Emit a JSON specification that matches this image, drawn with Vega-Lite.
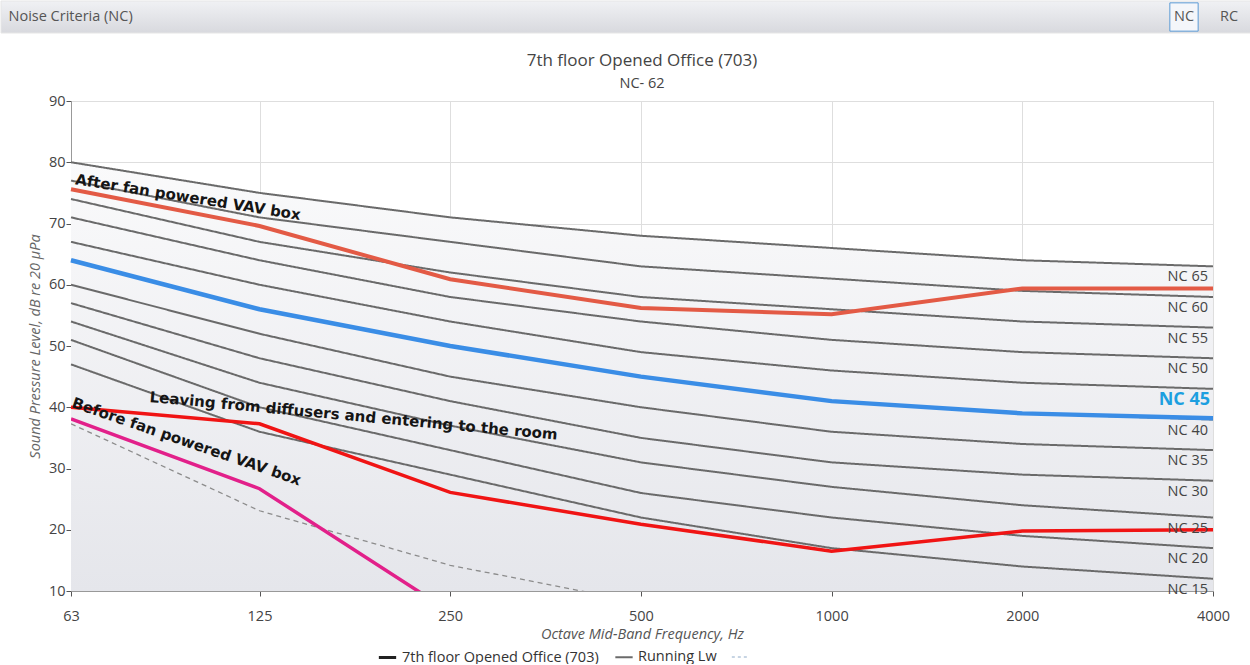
{
  "$schema": "https://vega.github.io/schema/vega-lite/v6.json",
  "padding": 0,
  "background": "white",
  "spacing": 17,
  "config": {
    "font": "Open Sans",
    "view": {"stroke": "#A8A8A8"},
    "axis": {"labelFont": "Open Sans", "titleFont": "Open Sans"}
  },
  "datasets": {
    "nc": [
      {"curve": "NC 15", "freq": 63, "spl": 47}, {"curve": "NC 15", "freq": 125, "spl": 36}, {"curve": "NC 15", "freq": 250, "spl": 29}, {"curve": "NC 15", "freq": 500, "spl": 22}, {"curve": "NC 15", "freq": 1000, "spl": 17}, {"curve": "NC 15", "freq": 2000, "spl": 14}, {"curve": "NC 15", "freq": 4000, "spl": 12},
      {"curve": "NC 20", "freq": 63, "spl": 51}, {"curve": "NC 20", "freq": 125, "spl": 40}, {"curve": "NC 20", "freq": 250, "spl": 33}, {"curve": "NC 20", "freq": 500, "spl": 26}, {"curve": "NC 20", "freq": 1000, "spl": 22}, {"curve": "NC 20", "freq": 2000, "spl": 19}, {"curve": "NC 20", "freq": 4000, "spl": 17},
      {"curve": "NC 25", "freq": 63, "spl": 54}, {"curve": "NC 25", "freq": 125, "spl": 44}, {"curve": "NC 25", "freq": 250, "spl": 37}, {"curve": "NC 25", "freq": 500, "spl": 31}, {"curve": "NC 25", "freq": 1000, "spl": 27}, {"curve": "NC 25", "freq": 2000, "spl": 24}, {"curve": "NC 25", "freq": 4000, "spl": 22},
      {"curve": "NC 30", "freq": 63, "spl": 57}, {"curve": "NC 30", "freq": 125, "spl": 48}, {"curve": "NC 30", "freq": 250, "spl": 41}, {"curve": "NC 30", "freq": 500, "spl": 35}, {"curve": "NC 30", "freq": 1000, "spl": 31}, {"curve": "NC 30", "freq": 2000, "spl": 29}, {"curve": "NC 30", "freq": 4000, "spl": 28},
      {"curve": "NC 35", "freq": 63, "spl": 60}, {"curve": "NC 35", "freq": 125, "spl": 52}, {"curve": "NC 35", "freq": 250, "spl": 45}, {"curve": "NC 35", "freq": 500, "spl": 40}, {"curve": "NC 35", "freq": 1000, "spl": 36}, {"curve": "NC 35", "freq": 2000, "spl": 34}, {"curve": "NC 35", "freq": 4000, "spl": 33},
      {"curve": "NC 40", "freq": 63, "spl": 64}, {"curve": "NC 40", "freq": 125, "spl": 56}, {"curve": "NC 40", "freq": 250, "spl": 50}, {"curve": "NC 40", "freq": 500, "spl": 45}, {"curve": "NC 40", "freq": 1000, "spl": 41}, {"curve": "NC 40", "freq": 2000, "spl": 39}, {"curve": "NC 40", "freq": 4000, "spl": 38},
      {"curve": "NC 45", "freq": 63, "spl": 67}, {"curve": "NC 45", "freq": 125, "spl": 60}, {"curve": "NC 45", "freq": 250, "spl": 54}, {"curve": "NC 45", "freq": 500, "spl": 49}, {"curve": "NC 45", "freq": 1000, "spl": 46}, {"curve": "NC 45", "freq": 2000, "spl": 44}, {"curve": "NC 45", "freq": 4000, "spl": 43},
      {"curve": "NC 50", "freq": 63, "spl": 71}, {"curve": "NC 50", "freq": 125, "spl": 64}, {"curve": "NC 50", "freq": 250, "spl": 58}, {"curve": "NC 50", "freq": 500, "spl": 54}, {"curve": "NC 50", "freq": 1000, "spl": 51}, {"curve": "NC 50", "freq": 2000, "spl": 49}, {"curve": "NC 50", "freq": 4000, "spl": 48},
      {"curve": "NC 55", "freq": 63, "spl": 74}, {"curve": "NC 55", "freq": 125, "spl": 67}, {"curve": "NC 55", "freq": 250, "spl": 62}, {"curve": "NC 55", "freq": 500, "spl": 58}, {"curve": "NC 55", "freq": 1000, "spl": 56}, {"curve": "NC 55", "freq": 2000, "spl": 54}, {"curve": "NC 55", "freq": 4000, "spl": 53},
      {"curve": "NC 60", "freq": 63, "spl": 77}, {"curve": "NC 60", "freq": 125, "spl": 71}, {"curve": "NC 60", "freq": 250, "spl": 67}, {"curve": "NC 60", "freq": 500, "spl": 63}, {"curve": "NC 60", "freq": 1000, "spl": 61}, {"curve": "NC 60", "freq": 2000, "spl": 59}, {"curve": "NC 60", "freq": 4000, "spl": 58},
      {"curve": "NC 65", "freq": 63, "spl": 80}, {"curve": "NC 65", "freq": 125, "spl": 75}, {"curve": "NC 65", "freq": 250, "spl": 71}, {"curve": "NC 65", "freq": 500, "spl": 68}, {"curve": "NC 65", "freq": 1000, "spl": 66}, {"curve": "NC 65", "freq": 2000, "spl": 64}, {"curve": "NC 65", "freq": 4000, "spl": 63}
    ],
    "spectra": [
      {"series": "After fan powered VAV box", "freq": 63, "spl": 75.6}, {"series": "After fan powered VAV box", "freq": 125, "spl": 69.6}, {"series": "After fan powered VAV box", "freq": 250, "spl": 60.9}, {"series": "After fan powered VAV box", "freq": 500, "spl": 56.2}, {"series": "After fan powered VAV box", "freq": 1000, "spl": 55.2}, {"series": "After fan powered VAV box", "freq": 2000, "spl": 59.4}, {"series": "After fan powered VAV box", "freq": 4000, "spl": 59.4},
      {"series": "Leaving from diffusers", "freq": 63, "spl": 40.0}, {"series": "Leaving from diffusers", "freq": 125, "spl": 37.3}, {"series": "Leaving from diffusers", "freq": 250, "spl": 26.1}, {"series": "Leaving from diffusers", "freq": 500, "spl": 20.9}, {"series": "Leaving from diffusers", "freq": 1000, "spl": 16.5}, {"series": "Leaving from diffusers", "freq": 2000, "spl": 19.8}, {"series": "Leaving from diffusers", "freq": 4000, "spl": 20.0},
      {"series": "Before fan powered VAV box", "freq": 63, "spl": 38.1}, {"series": "Before fan powered VAV box", "freq": 125, "spl": 26.7}, {"series": "Before fan powered VAV box", "freq": 250, "spl": 6.6},
      {"series": "Room", "freq": 63, "spl": 64}, {"series": "Room", "freq": 125, "spl": 56}, {"series": "Room", "freq": 250, "spl": 50}, {"series": "Room", "freq": 500, "spl": 45}, {"series": "Room", "freq": 1000, "spl": 41}, {"series": "Room", "freq": 2000, "spl": 39}, {"series": "Room", "freq": 4000, "spl": 38.2},
      {"series": "Threshold", "freq": 63, "spl": 37.3}, {"series": "Threshold", "freq": 125, "spl": 23.1}, {"series": "Threshold", "freq": 250, "spl": 14.2}, {"series": "Threshold", "freq": 500, "spl": 8.1}
    ],
    "notes": [
      {"note": "After fan powered VAV box", "freq": 96.4, "spl": 74.3},
      {"note": "Leaving from diffusers and entering to the room", "freq": 176, "spl": 38.6},
      {"note": "Before fan powered VAV box", "freq": 95.9, "spl": 34.4}
    ],
    "header": [{"item": "NC"}, {"item": "RC"}]
  },
  "vconcat": [
    {
      "width": 1250,
      "height": 32,
      "view": {"stroke": null},
      "data": {"name": "header"},
      "title": {"text": "Noise Criteria (NC)", "anchor": "start", "frame": "bounds", "offset": -24, "dx": 8, "fontSize": 14.5, "fontWeight": "normal", "color": "#555555", "font": "Open Sans"},
      "layer": [
        {
          "transform": [{"filter": "datum.item == 'NC'"}],
          "mark": {"type": "rect", "fill": {"gradient": "linear", "x1": 0, "y1": 0, "x2": 0, "y2": 1, "stops": [{"offset": 0, "color": "#F0F1F4"}, {"offset": 1, "color": "#D8D9DE"}]}, "stroke": "#E6E6E6", "strokeWidth": 1},
          "encoding": {}
        },
        {
          "transform": [{"filter": "datum.item == 'NC'"}],
          "mark": {"type": "point", "shape": "square", "size": 800, "filled": true, "fill": "#F4F6FA", "stroke": "#5B9BD5", "strokeWidth": 1, "opacity": 1},
          "encoding": {"x": {"field": "item", "type": "nominal", "scale": {"type": "point", "domain": ["NC", "RC"], "range": [1183, 1228], "padding": 0}, "axis": null}}
        },
        {
          "mark": {"type": "text", "fontSize": 14.5, "color": "#555555", "baseline": "middle", "font": "Open Sans"},
          "encoding": {"x": {"field": "item", "type": "nominal", "scale": {"type": "point", "domain": ["NC", "RC"], "range": [1183, 1228], "padding": 0}, "axis": null}, "text": {"field": "item"}}
        }
      ]
    },
    {
      "hconcat": [
        {
          "width": 25,
          "height": 10,
          "view": {"stroke": null},
          "data": {"values": [{"s": 1}]},
          "mark": {"type": "rect", "opacity": 0},
          "encoding": {}
        },
        {
          "width": 1142,
          "height": 490,
          "title": {"text": "7th floor Opened Office (703)", "subtitle": "NC- 62", "anchor": "middle", "frame": "group", "fontSize": 17, "fontWeight": "normal", "color": "#444444", "subtitleColor": "#444444", "subtitleFontSize": 14.5, "subtitlePadding": 7, "offset": 2, "font": "Open Sans", "subtitleFont": "Open Sans"},
          "encoding": {
            "x": {"field": "freq", "type": "quantitative", "scale": {"type": "log", "domain": [63, 4000], "nice": false},
              "axis": {"title": "Octave Mid-Band Frequency, Hz", "values": [63, 125, 250, 500, 1000, 2000, 4000], "format": "d", "labelFlush": false, "labelOverlap": false, "grid": true, "gridColor": "#DEDEDE", "domainColor": "#999999", "tickColor": "#555555", "tickSize": 5, "labelFontSize": 14.5, "labelColor": "#444444", "labelPadding": 13, "titleFontSize": 14.5, "titleFontWeight": "normal", "titleFontStyle": "italic", "titleColor": "#555555", "titlePadding": 5}},
            "y": {"field": "spl", "type": "quantitative", "scale": {"domain": [10, 90], "nice": false, "zero": false},
              "axis": {"title": "Sound Pressure Level, dB re 20 µPa", "values": [10, 20, 30, 40, 50, 60, 70, 80, 90], "labelFlush": false, "grid": true, "gridColor": "#DEDEDE", "domainColor": "#999999", "tickColor": "#555555", "tickSize": 5, "labelFontSize": 14.5, "labelColor": "#444444", "labelPadding": 1, "titleFontSize": 14.5, "titleFontWeight": "normal", "titleFontStyle": "italic", "titleColor": "#666666", "titlePadding": 6}}
          },
          "layer": [
            {
              "data": {"name": "nc"},
              "transform": [{"filter": "datum.curve == 'NC 65'"}],
              "mark": {"type": "area", "fill": {"gradient": "linear", "x1": 0, "y1": 0, "x2": 0, "y2": 1, "stops": [{"offset": 0, "color": "#FAFAFB"}, {"offset": 1, "color": "#E5E6EB"}]}},
              "encoding": {"y2": {"datum": 10}}
            },
            {
              "data": {"name": "nc"},
              "mark": {"type": "line", "interpolate": "linear"},
              "encoding": {
                "detail": {"field": "curve"},
                "color": {"datum": "Running Lw", "type": "nominal", "scale": {"domain": ["7th floor Opened Office (703)", "Running Lw", ""], "range": ["#222222", "#6A6A6A", "#8FAAC8"]},
                  "legend": {"title": null, "orient": "none", "legendX": 376, "legendY": 646, "direction": "horizontal", "symbolType": "stroke", "symbolSize": 300, "labelFontSize": 14.5, "labelColor": "#333333", "labelFont": "Open Sans", "labelLimit": 0, "columnPadding": 12, "symbolOpacity": 1}},
                "strokeDash": {"datum": "Running Lw", "type": "nominal", "scale": {"domain": ["7th floor Opened Office (703)", "Running Lw", ""], "range": [[1, 0], [1, 0], [3, 3]]}, "legend": {"title": null, "orient": "none", "legendX": 376, "legendY": 646, "direction": "horizontal"}},
                "strokeWidth": {"datum": "Running Lw", "type": "nominal", "scale": {"domain": ["7th floor Opened Office (703)", "Running Lw", ""], "range": [3, 1, 1.2]}, "legend": {"title": null, "orient": "none", "legendX": 376, "legendY": 646, "direction": "horizontal"}}
              }
            },
            {
              "data": {"name": "spectra"},
              "transform": [{"filter": "datum.series == 'Threshold'"}],
              "mark": {"type": "line", "stroke": "#8C8C8C", "strokeWidth": 1.3, "strokeDash": [5, 4], "clip": true}
            },
            {
              "data": {"name": "spectra"},
              "transform": [{"filter": "datum.series == 'Room'"}],
              "mark": {"type": "line", "stroke": "#3A8DE6", "strokeWidth": 4.5}
            },
            {
              "data": {"name": "spectra"},
              "transform": [{"filter": "datum.series == 'After fan powered VAV box'"}],
              "mark": {"type": "line", "stroke": "#E35A45", "strokeWidth": 4}
            },
            {
              "data": {"name": "spectra"},
              "transform": [{"filter": "datum.series == 'Leaving from diffusers'"}],
              "mark": {"type": "line", "stroke": "#F01414", "strokeWidth": 3.5}
            },
            {
              "data": {"name": "spectra"},
              "transform": [{"filter": "datum.series == 'Before fan powered VAV box'"}],
              "mark": {"type": "line", "stroke": "#E2208A", "strokeWidth": 3.5, "clip": true}
            },
            {
              "data": {"name": "nc"},
              "transform": [{"filter": "datum.freq == 4000 && datum.curve != 'NC 45'"}],
              "mark": {"type": "text", "align": "right", "baseline": "top", "dx": -5, "dy": 4, "fontSize": 14.5, "color": "#444444", "font": "Open Sans"},
              "encoding": {"text": {"field": "curve"}}
            },
            {
              "data": {"name": "nc"},
              "transform": [{"filter": "datum.freq == 4000 && datum.curve == 'NC 45'"}],
              "mark": {"type": "text", "align": "right", "baseline": "top", "dx": -3, "dy": 2, "fontSize": 18, "fontWeight": "bold", "color": "#1C9FE0", "font": "Open Sans"},
              "encoding": {"text": {"field": "curve"}}
            },
            {
              "data": {"name": "notes"},
              "transform": [{"filter": "datum.note == 'After fan powered VAV box'"}],
              "mark": {"type": "text", "angle": 9, "align": "center", "baseline": "middle", "fontSize": 15, "fontWeight": "bold", "font": "DejaVu Sans", "color": "#151515"},
              "encoding": {"text": {"field": "note"}}
            },
            {
              "data": {"name": "notes"},
              "transform": [{"filter": "datum.note == 'Leaving from diffusers and entering to the room'"}],
              "mark": {"type": "text", "angle": 5.3, "align": "center", "baseline": "middle", "fontSize": 15, "fontWeight": "bold", "font": "DejaVu Sans", "color": "#151515"},
              "encoding": {"text": {"field": "note"}}
            },
            {
              "data": {"name": "notes"},
              "transform": [{"filter": "datum.note == 'Before fan powered VAV box'"}],
              "mark": {"type": "text", "angle": 19, "align": "center", "baseline": "middle", "fontSize": 15, "fontWeight": "bold", "font": "DejaVu Sans", "color": "#151515"},
              "encoding": {"text": {"field": "note"}}
            }
          ]
        }
      ],
      "spacing": 0
    }
  ]
}
